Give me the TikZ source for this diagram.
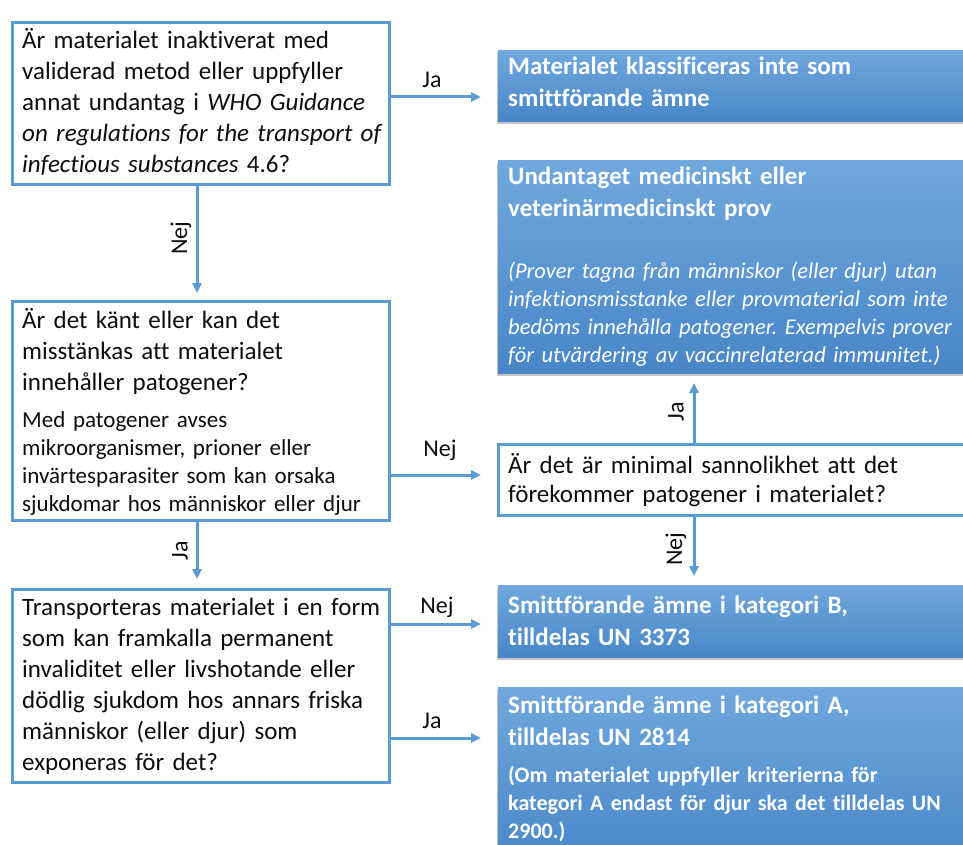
\documentclass[tikz,border=0pt]{standalone}
\usepackage{fontspec}
\setmainfont[Ligatures={NoCommon}]{Carlito}
\usetikzlibrary{arrows.meta,shadows,calc}
\definecolor{bline}{HTML}{5B9BD5}
\definecolor{btop}{HTML}{70A8DD}
\definecolor{bbot}{HTML}{4886C8}
\definecolor{ink}{HTML}{0D0D0D}
\frenchspacing
\begin{document}
\frenchspacing
\begin{tikzpicture}[x=1pt,y=-1pt,
  qbox/.style={draw=bline,line width=3pt,fill=white,inner sep=0pt,anchor=north west},
  abox/.style={inner sep=0pt,anchor=north west,top color=btop,bottom color=bbot,
    drop shadow={shadow xshift=-1pt,shadow yshift=-3pt,opacity=0.45}},
  txt/.style={inner sep=0pt,anchor=base west,align=left,text=ink,
    font=\fontsize{25}{31}\selectfont},
  small/.style={inner sep=0pt,anchor=base west,align=left,text=ink,
    font=\fontsize{23}{28}\selectfont},
  wbold/.style={inner sep=0pt,anchor=base west,align=left,text=white,
    font=\fontsize{25}{32}\selectfont\bfseries},
  wbsmall/.style={inner sep=0pt,anchor=base west,align=left,text=white,
    font=\fontsize{22}{28}\selectfont\bfseries},
  wital/.style={inner sep=0pt,anchor=base west,align=left,text=white,
    font=\fontsize{22.5}{28}\selectfont\itshape},
  lbl/.style={inner sep=0pt,text=ink,font=\fontsize{24}{28}\selectfont},
  arr/.style={draw=bline,line width=3pt,-{Triangle[length=10pt,width=9pt]}}
]
\useasboundingbox (0,0) rectangle (963,845);
\clip (0,0) rectangle (963,845);
\fill[white] (0,0) rectangle (963,845);

% question boxes
\node[qbox,minimum width=377pt,minimum height=162pt] (b1) at (11,21) {};
\node[qbox,minimum width=377pt,minimum height=219pt] (b2) at (11,300) {};
\node[qbox,minimum width=377pt,minimum height=193pt] (b3) at (11,588) {};
\node[qbox,minimum width=480pt,minimum height=71pt] (r3) at (497,443) {};

% answer boxes
\node[abox,minimum width=480pt,minimum height=71pt] (r1) at (498,50) {};
\node[abox,minimum width=480pt,minimum height=213pt] (r2) at (498,160) {};
\node[abox,minimum width=480pt,minimum height=72pt] (r4) at (498,585) {};
\node[abox,minimum width=480pt,minimum height=180pt] (r5) at (498,687) {};

% texts
\node[txt,text width=370pt] (t1) at (22,49) {Är materialet inaktiverat med\\validerad metod eller uppfyller\\annat undantag i \textit{WHO Guidance}\\\textit{on regulations for the transport of}\\\textit{infectious substances} 4.6?};
\node[txt,text width=370pt] (t2) at (22,328) {Är det känt eller kan det\\misstänkas att materialet\\innehåller patogener?};
\node[small,text width=370pt] (t2b) at (22,427) {Med patogener avses\\mikroorganismer, prioner eller\\invärtesparasiter som kan orsaka\\sjukdomar hos människor eller djur};
\node[txt,text width=370pt] (t3) at (22,615) {Transporteras materialet i en form\\som kan framkalla permanent\\invaliditet eller livshotande eller\\dödlig sjukdom hos annars friska\\människor (eller djur) som\\exponeras för det?};
\node[txt,text width=450pt,font=\fontsize{25}{29.5}\selectfont] (t4) at (508,473) {Är det är minimal sannolikhet att det\\förekommer patogener i materialet?};

\node[wbold,text width=450pt] (a1) at (508,75) {Materialet klassificeras inte som\\smittförande ämne};
\node[wbold,text width=450pt] (a2) at (508,185) {Undantaget medicinskt eller\\veterinärmedicinskt prov};
\node[wital,text width=455pt] (a2b) at (508,278) {(Prover tagna från människor (eller djur) utan\\infektionsmisstanke eller provmaterial som inte\\bedöms innehålla patogener. Exempelvis prover\\för utvärdering av vaccinrelaterad immunitet.)};
\node[wbold,text width=450pt] (a4) at (508,613) {Smittförande ämne i kategori B,\\tilldelas UN 3373};
\node[wbold,text width=450pt] (a5) at (508,713) {Smittförande ämne i kategori A,\\tilldelas UN 2814};
\node[wbsmall,text width=455pt] (a5b) at (508,782) {(Om materialet uppfyller kriterierna för\\kategori A endast för djur ska det tilldelas UN\\2900.)};

% connector end points
\coordinate (e1) at (481,97);
\coordinate (e2) at (197,293);
\coordinate (e3) at (481,475);
\coordinate (e4) at (694,383);
\coordinate (e5) at (694,576);
\coordinate (e6) at (197,579);
\coordinate (e7) at (481,624);
\coordinate (e8) at (481,738);

\draw[arr] (b1.east |- e1) -- (e1);
\draw[arr] (b1.south -| e2) -- (e2);
\draw[arr] (b2.east |- e3) -- (e3);
\draw[arr] (r3.north -| e4) -- (e4);
\draw[arr] (r3.south -| e5) -- (e5);
\draw[arr] (b2.south -| e6) -- (e6);
\draw[arr] (b3.east |- e7) -- (e7);
\draw[arr] (b3.east |- e8) -- (e8);

% labels
\node[lbl] (l1) at (432,80) {Ja};
\node[lbl,rotate=90] (l2) at (181,238) {Nej};
\node[lbl] (l3) at (440,450) {Nej};
\node[lbl,rotate=90] (l4) at (676,412) {Ja};
\node[lbl,rotate=90] (l5) at (676,549) {Nej};
\node[lbl,rotate=90] (l6) at (180,551) {Ja};
\node[lbl] (l7) at (437,607) {Nej};
\node[lbl] (l8) at (432,721) {Ja};
\end{tikzpicture}
\end{document}
